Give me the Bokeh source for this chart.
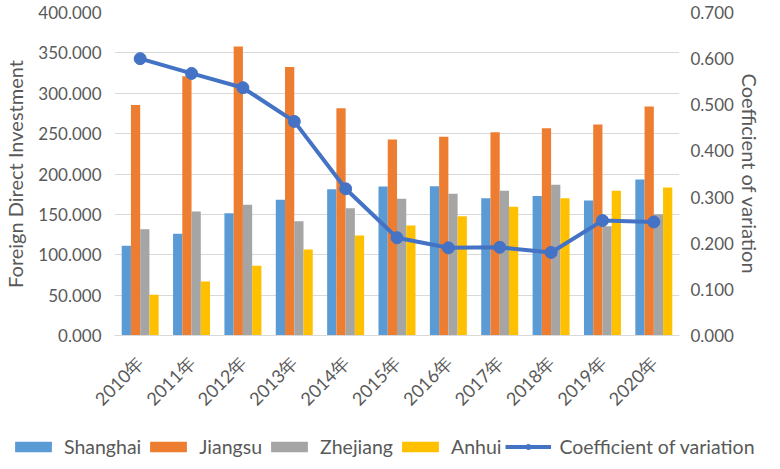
from bokeh.plotting import figure
from bokeh.layouts import column
from bokeh.models import (ColumnDataSource, FactorRange, Range1d, LinearAxis, FixedTicker,
                          NumeralTickFormatter, Legend, LegendItem)
from bokeh.transform import dodge
from bokeh.embed import file_html
from bokeh.resources import INLINE
import math

years = ["2010年", "2011年", "2012年", "2013年", "2014年", "2015年",
         "2016年", "2017年", "2018年", "2019年", "2020年"]
shanghai = [111.3, 125.9, 151.5, 168.0, 181.2, 184.5, 184.9, 170.0, 172.9, 167.2, 193.2]
jiangsu = [285.6, 321.0, 357.9, 332.6, 281.5, 242.7, 246.0, 251.8, 256.7, 261.3, 283.6]
zhejiang = [131.7, 153.6, 161.8, 141.6, 157.7, 169.2, 175.4, 179.2, 186.6, 135.4, 150.2]
anhui = [50.4, 66.9, 86.3, 106.5, 123.8, 136.2, 147.7, 159.3, 170.0, 179.2, 183.3]
cv = [0.600, 0.568, 0.537, 0.464, 0.318, 0.212, 0.190, 0.191, 0.180, 0.249, 0.246]

series_names = ["Shanghai", "Jiangsu", "Zhejiang", "Anhui"]
line_name = "Coefficient of variation"
left_ticks = [0, 50, 100, 150, 200, 250, 300, 350, 400]
right_ticks = [0.0, 0.1, 0.2, 0.3, 0.4, 0.5, 0.6, 0.7]

colors = {"Shanghai": "#5B9BD5", "Jiangsu": "#ED7D31", "Zhejiang": "#A5A5A5", "Anhui": "#FFC000"}
line_color = "#4472C4"
text_color = "#595959"
FONT = "Lato"
BL, BR = 107, 70

src = ColumnDataSource(dict(year=years, Shanghai=shanghai, Jiangsu=jiangsu,
                            Zhejiang=zhejiang, Anhui=anhui, cv=cv))

p = figure(width=764, height=420, x_range=FactorRange(*years, range_padding=0),
           y_range=Range1d(0, 400), output_backend="svg", toolbar_location=None,
           min_border_left=BL, min_border_right=BR, min_border_top=12, min_border_bottom=85)
p.extra_y_ranges = {"cv": Range1d(0, 0.7)}
p.outline_line_color = None

bw = 0.18
offsets = [-1.5 * bw, -0.5 * bw, 0.5 * bw, 1.5 * bw]
for name, off in zip(series_names, offsets):
    p.vbar(x=dodge("year", off, range=p.x_range), top=name, width=bw, source=src,
           fill_color=colors[name], line_color=None)

p.line("year", "cv", source=src, y_range_name="cv", line_color=line_color, line_width=4)
p.scatter("year", "cv", source=src, y_range_name="cv", size=12, marker="circle",
          fill_color=line_color, line_color=line_color)

# axes
p.yaxis.ticker = FixedTicker(ticks=left_ticks)
p.yaxis.formatter = NumeralTickFormatter(format="0.000")
p.yaxis.axis_label = "Foreign Direct Investment"
ax_r = LinearAxis(y_range_name="cv", ticker=FixedTicker(ticks=right_ticks),
                  formatter=NumeralTickFormatter(format="0.000"),
                  axis_label=line_name)
p.add_layout(ax_r, "right")

for ax in [p.yaxis[0], ax_r]:
    ax.axis_line_color = None
    ax.major_tick_line_color = None
    ax.minor_tick_line_color = None
    ax.major_tick_out = 0
    ax.major_tick_in = 0
    ax.minor_tick_out = 0
    ax.major_label_text_font = FONT
    ax.major_label_text_font_size = "17px"
    ax.major_label_text_color = text_color
    ax.axis_label_text_font = FONT
    ax.axis_label_text_font_size = "20px"
    ax.axis_label_text_font_style = "normal"
    ax.axis_label_text_color = text_color
p.yaxis[0].major_label_standoff = 13
p.yaxis[0].axis_label_standoff = 8
ax_r.major_label_standoff = 11
ax_r.axis_label_standoff = 1

xa = p.xaxis[0]
xa.axis_line_color = "#D9D9D9"
xa.major_tick_line_color = None
xa.minor_tick_line_color = None
xa.major_label_orientation = math.pi / 4
xa.major_label_text_font = FONT
xa.major_label_text_font_size = "18px"
xa.major_label_text_color = text_color
xa.major_label_standoff = 18

p.xgrid.grid_line_color = None
p.ygrid.grid_line_color = "#D9D9D9"
p.ygrid.grid_line_width = 1

# legend strip: proxy glyphs placed outside the strip's visible range, only their keys show
lg = figure(width=764, height=40, x_range=Range1d(0, 1), y_range=Range1d(0, 1),
            output_backend="svg", toolbar_location=None, x_axis_type=None, y_axis_type=None,
            min_border_left=0, min_border_right=0, min_border_top=0, min_border_bottom=0)
for fig in (p, lg):
    try:
        fig.frame_align = False
    except Exception:
        pass
lg.outline_line_color = None
lg.grid.grid_line_color = None
proxy = ColumnDataSource(dict(x=[-3, -2], y=[-3, -2]))
items = []
for name in series_names:
    r = lg.vbar(x="x", top="y", width=0.1, source=proxy, fill_color=colors[name], line_color=None)
    items.append(LegendItem(label=name, renderers=[r]))
rl = lg.line("x", "y", source=proxy, line_color=line_color, line_width=4)
rm = lg.scatter("x", "y", source=proxy, size=12, marker="circle",
                fill_color=line_color, line_color=line_color)
items.append(LegendItem(label=line_name, renderers=[rl, rm]))
legend = Legend(items=items, orientation="horizontal", location=(10, 2),
                padding=0, margin=0, spacing=4, label_standoff=8,
                glyph_width=46, glyph_height=13, label_height=16,
                label_text_font="Lato", label_text_font_size="19.5px",
                label_text_color=text_color, background_fill_alpha=0,
                border_line_color=None)
lg.add_layout(legend, "center")

layout = column(p, lg, spacing=0)
open("out.html", "w").write(file_html(layout, INLINE))
